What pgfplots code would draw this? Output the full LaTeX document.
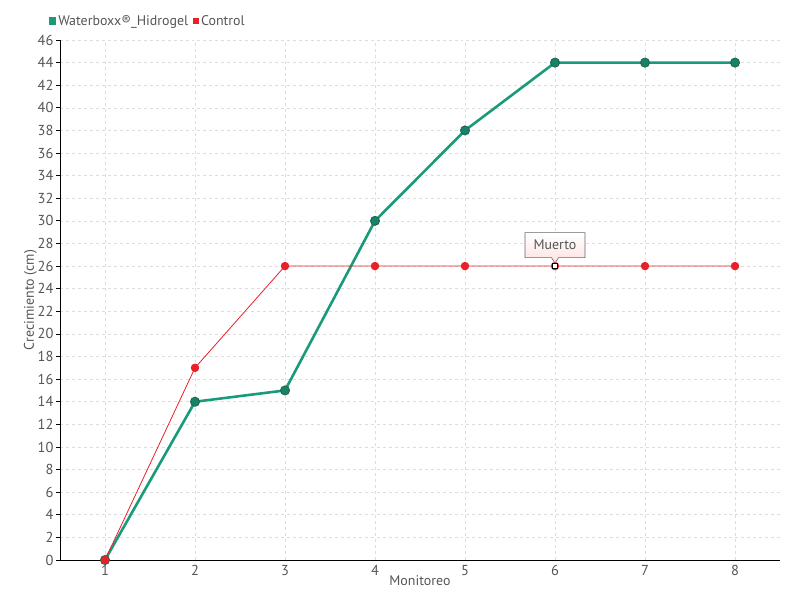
\documentclass[border=0pt]{standalone}
\usepackage{pgfplots}
\pgfplotsset{compat=1.18}
\usepackage{fontspec}
\setmainfont{PT Sans}
\usetikzlibrary{shapes.callouts}
\definecolor{wgreen}{HTML}{1A9A7A}
\definecolor{wdark}{HTML}{1E6B50}
\definecolor{cred}{HTML}{E8202A}
\definecolor{txt}{HTML}{555555}
\definecolor{gridc}{HTML}{DDDDDD}
\begin{document}
\begin{tikzpicture}
\useasboundingbox (-60bp,-40bp) rectangle (740bp,560bp);
\begin{axis}[
  at={(0,0)}, anchor=south west,
  scale only axis,
  width=720bp, height=520bp,
  xmin=0.5, xmax=8.5,
  ymin=0, ymax=46,
  xtick={1,...,8},
  ytick={0,2,...,46},
  axis x line*=bottom,
  axis y line*=left,
  axis line style={black, line width=1pt},
  tick style={black, line width=0.8pt},
  tick align=outside,
  major tick length=4bp,
  xtick style={draw=none},
  grid=major,
  major grid style={gridc, dashed, line width=0.6pt},
  ticklabel style={font=\fontsize{14.5}{15}\selectfont, text=txt},
  xticklabel style={yshift=2bp},
  yticklabel style={xshift=1bp},
  /pgf/number format/assume math mode=true,
  xlabel={Monitoreo},
  ylabel={Crecimiento (cm)},
  label style={font=\fontsize{14}{15}\selectfont, text=txt},
  xlabel style={yshift=7bp},
  ylabel style={yshift=-6bp},
  legend style={at={(axis description cs:-0.016,1.021)}, anchor=south west,
    draw=none, fill=none, font=\fontsize{14}{15}\selectfont, text=txt,
    legend columns=2, /tikz/every even column/.append style={column sep=3bp},
    inner sep=0pt},
  legend image code/.code={\fill[#1] (0bp,-2.5bp) rectangle (5bp,2.5bp);},
  clip=false,
]
\addplot[wgreen, line width=2.6pt, mark=*, mark size=4.5bp,
  mark options={fill=wgreen!85!black, draw=wdark, line width=1pt}]
  coordinates {(1,0) (2,14) (3,15) (4,30) (5,38) (6,44) (7,44) (8,44)};
\addlegendentry{Waterboxx®\_Hidrogel}
\addplot[cred, line width=0.8pt, mark=*, mark size=3.8bp,
  mark options={fill=cred, draw=cred}]
  coordinates {(1,0) (2,17) (3,26) (4,26) (5,26) (6,26) (7,26) (8,26)};
\addlegendentry{Control}
\addplot[forget plot, only marks, mark=square*, mark size=2.5bp,
  mark options={fill=white, draw=black, line width=1pt}]
  coordinates {(6,26)};
\coordinate (m) at (axis cs:6,26);
\end{axis}
\node[rectangle callout, draw=gray!80!black, line width=0.6pt,
  top color=white, bottom color=red!12, text=txt,
  font=\fontsize{14}{15}\selectfont,
  minimum width=60bp, minimum height=25bp, inner sep=2bp,
  callout absolute pointer={([yshift=3bp]m)}]
  at ([yshift=21bp]m) {Muerto};
\end{tikzpicture}
\end{document}
